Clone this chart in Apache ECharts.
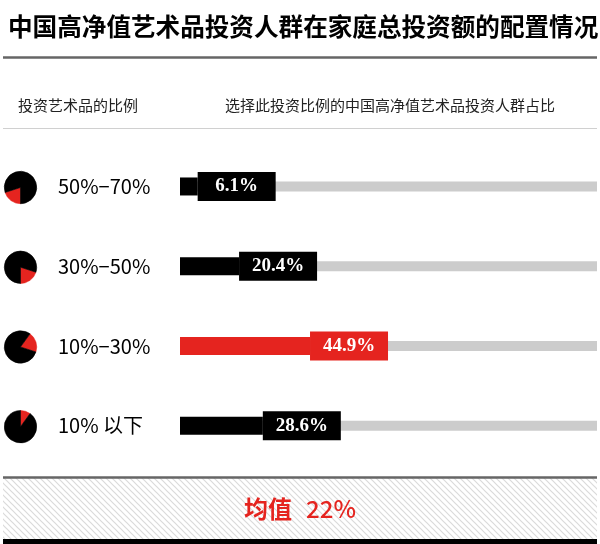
<!DOCTYPE html>
<html>
<head>
<meta charset="utf-8">
<script src="https://cdn.jsdelivr.net/npm/echarts@6/dist/echarts.min.js"></script>
<style>
  html, body { margin: 0; padding: 0; background: #fff; }
  #main { width: 600px; height: 544px; }
</style>
</head>
<body>
<div id="main"></div>
<script>
// 数据
var ranges = ['50%−70%', '30%−50%', '10%−30%', '10% 以下'];
var shares = [6.1, 20.4, 44.9, 28.6];
var pieLow = [50, 30, 10, 0];
var pieHigh = [70, 50, 30, 10];
var meanShare = 22;
var highlight = '10%−30%';

var RED = '#e5241f';
var FONT = '"Noto Sans CJK SC", "Noto Sans", sans-serif';
var xMax = 144;

// 布局
var gridTop = 146.6, gridH = 319, gridLeft = 180, gridRight = 3;
var band = gridH / ranges.length;

// 斜线底纹
var tile = document.createElement('canvas');
tile.width = 6; tile.height = 6;
var ctx = tile.getContext('2d');
ctx.fillStyle = '#fff';
ctx.fillRect(0, 0, 6, 6);
ctx.strokeStyle = '#dadada';
ctx.lineWidth = 1.2;
ctx.beginPath();
ctx.moveTo(-1, -1); ctx.lineTo(7, 7);
ctx.moveTo(-1, 5); ctx.lineTo(1, 7);
ctx.moveTo(5, -1); ctx.lineTo(7, 1);
ctx.stroke();

function slice(v, c) {
    return { value: v, itemStyle: { color: c, borderColor: c, borderWidth: 0.6 } };
}

// 小饼图：红色扇区从 pieLow 开始，到 pieHigh 结束（12点方向顺时针）
var pies = ranges.map(function (r, i) {
    return {
        type: 'pie',
        silent: true,
        center: [20.5, gridTop + band * (i + 0.5) + 1],
        radius: 16.2,
        startAngle: 90 - pieLow[i] * 3.6,
        clockwise: true,
        label: { show: false },
        labelLine: { show: false },
        data: [
            slice(pieHigh[i] - pieLow[i], RED),
            slice(100 - (pieHigh[i] - pieLow[i]), '#000')
        ]
    };
});

var labelBox = {
    width: 78, height: 29, lineHeight: 29, align: 'center',
    color: '#fff', fontFamily: '"Liberation Serif", serif',
    fontWeight: 'bold', fontSize: 19
};

var myChart = echarts.init(document.getElementById('main'));
var option = {
    animation: false,
    title: {
        text: '中国高净值艺术品投资人群在家庭总投资额的配置情况',
        left: 3, top: 9,
        textStyle: { fontFamily: FONT, fontSize: 24.6, fontWeight: 'bold', color: '#000' }
    },
    grid: { left: gridLeft, right: gridRight, top: gridTop, height: gridH },
    xAxis: { type: 'value', min: 0, max: xMax, show: false },
    yAxis: [{
        type: 'category', inverse: true, data: ranges,
        axisLine: { show: false }, axisTick: { show: false }, splitLine: { show: false },
        axisLabel: {
            align: 'left', margin: 122, fontSize: 20, color: '#000', fontFamily: FONT
        }
    }, {
        type: 'category', inverse: true, data: ranges, show: false
    }],
    series: [{
        type: 'bar', yAxisIndex: 0, silent: true,
        barWidth: 10,
        itemStyle: { color: '#cccccc' },
        data: ranges.map(function () { return xMax; })
    }, {
        type: 'bar', yAxisIndex: 1, silent: true, z: 3,
        barWidth: 18,
        data: shares.map(function (v, i) {
            return { value: v, itemStyle: { color: ranges[i] === highlight ? RED : '#000' } };
        }),
        label: {
            show: true, position: 'right', distance: 0,
            formatter: function (p) {
                var key = ranges[p.dataIndex] === highlight ? 'r' : 'k';
                return '{' + key + '|' + p.value.toFixed(1) + '%}';
            },
            rich: {
                k: Object.assign({ backgroundColor: '#000' }, labelBox),
                r: Object.assign({ backgroundColor: RED }, labelBox)
            }
        }
    }].concat(pies),
    graphic: [
        { type: 'line', shape: { x1: 3, y1: 57.5, x2: 597, y2: 57.5 }, style: { stroke: '#666', lineWidth: 2.5 } },
        { type: 'text', x: 18, y: 105, style: { text: '投资艺术品的比例', font: '15px ' + FONT, fill: '#222', textVerticalAlign: 'middle' } },
        { type: 'text', x: 225, y: 105, style: { text: '选择此投资比例的中国高净值艺术品投资人群占比', font: '15px ' + FONT, fill: '#222', textVerticalAlign: 'middle' } },
        { type: 'line', shape: { x1: 3, y1: 128.5, x2: 597, y2: 128.5 }, style: { stroke: '#d0d0d0', lineWidth: 1 } },
        { type: 'rect', shape: { x: 3, y: 478, width: 594, height: 61 }, style: { fill: { image: tile, repeat: 'repeat' } } },
        { type: 'line', shape: { x1: 3, y1: 477.5, x2: 597, y2: 477.5 }, style: { stroke: '#666', lineWidth: 2.5 } },
        { type: 'rect', shape: { x: 3, y: 539, width: 594, height: 5 }, style: { fill: '#000' } },
        {
            type: 'text', x: 300, y: 509,
            style: {
                text: '{a|均值}{s| }{b|' + meanShare + '%}',
                fill: RED, align: 'center', verticalAlign: 'middle',
                rich: {
                    a: { fontFamily: FONT, fontSize: 24, fontWeight: 'bold', fill: RED },
                    s: { width: 14 },
                    b: { fontFamily: FONT, fontSize: 24, fontWeight: 500, fill: RED }
                }
            }
        }
    ]
};
myChart.setOption(option);
</script>
</body>
</html>
